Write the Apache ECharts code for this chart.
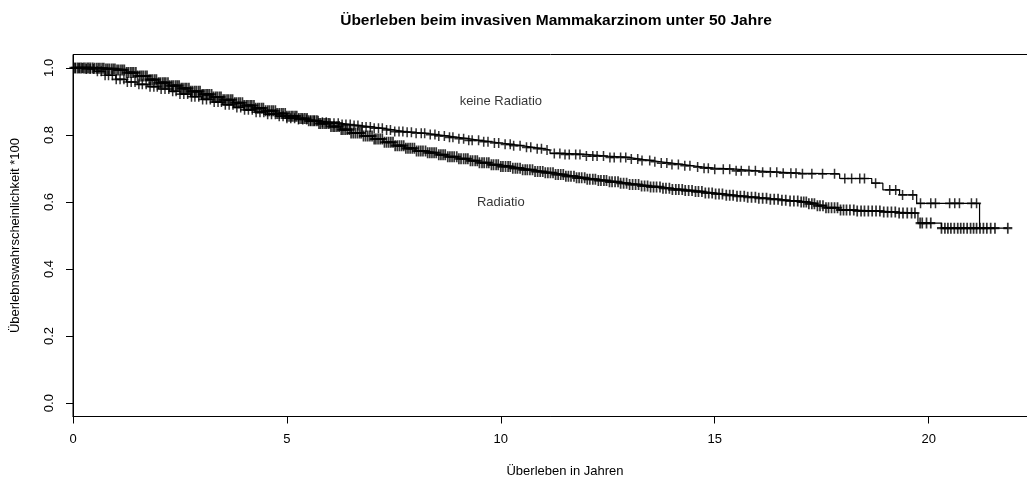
<!DOCTYPE html>
<html>
<head>
<meta charset="utf-8">
<script src="https://cdn.jsdelivr.net/npm/echarts@6/dist/echarts.min.js"></script>
<style>html,body{margin:0;padding:0;background:#fff}#c{width:1027px;height:477px}</style>
</head>
<body>
<div id="c"></div>
<script>
// ---- data ----
const chartTitle = 'Überleben beim invasiven Mammakarzinom unter 50 Jahre';
const xTitle = 'Überleben in Jahren';
const yTitle = 'Überlebnswahrscheinlichkeit *100';
const xTicks = [0, 5, 10, 15, 20];
const yTicks = [0, 0.2, 0.4, 0.6, 0.8, 1.0];

// Kaplan-Meier step points: Radiatio
const radTimes = [0,0.25,0.5,0.75,1.0,1.25,1.5,1.75,2.0,2.25,2.5,2.75,3.0,3.25,3.5,3.75,4.0,4.25,4.5,4.75,5.0,5.25,5.5,5.75,6.0,6.25,6.5,6.75,7.0,7.25,7.5,7.75,8.0,8.25,8.5,8.75,9.0,9.25,9.5,9.75,10.0,10.25,10.5,10.75,11.0,11.25,11.5,11.75,12.0,12.25,12.5,12.75,13.0,13.25,13.5,13.75,14.0,14.25,14.5,14.75,15.0,15.25,15.5,15.75,16.0,16.25,16.5,16.75,17.0,17.2,17.4,17.6,17.9,18.3,18.9,19.3,19.75,20.3,21.85];
const radSurv  = [1.0,1.0,0.999,0.997,0.994,0.986,0.976,0.965,0.956,0.947,0.939,0.93,0.921,0.913,0.905,0.896,0.888,0.88,0.872,0.864,0.856,0.849,0.842,0.834,0.825,0.816,0.806,0.797,0.788,0.778,0.768,0.76,0.752,0.747,0.741,0.735,0.729,0.723,0.717,0.711,0.706,0.701,0.696,0.691,0.687,0.682,0.677,0.672,0.668,0.664,0.66,0.656,0.652,0.648,0.645,0.641,0.637,0.634,0.631,0.627,0.624,0.62,0.617,0.614,0.611,0.608,0.605,0.603,0.6,0.595,0.589,0.583,0.576,0.573,0.57,0.567,0.537,0.522,0.522];
// Kaplan-Meier step points: keine Radiatio
const noRadTimes = [0,0.25,0.5,0.75,1.0,1.25,1.5,1.75,2.0,2.25,2.5,2.75,3.0,3.25,3.5,3.75,4.0,4.25,4.5,4.75,5.0,5.25,5.5,5.75,6.0,6.25,6.5,6.75,7.0,7.25,7.5,7.75,8.0,8.25,8.5,8.75,9.0,9.25,9.5,9.75,10.0,10.25,10.5,10.75,11.0,11.15,11.5,12.0,12.5,13.0,13.25,13.5,13.75,14.0,14.25,14.5,14.75,15.0,15.5,16.0,16.5,17.0,17.92,18.67,18.93,19.32,19.72,21.19];
const noRadSurv  = [1.0,0.997,0.99,0.978,0.966,0.958,0.951,0.944,0.937,0.93,0.922,0.914,0.906,0.898,0.89,0.882,0.875,0.868,0.862,0.856,0.85,0.846,0.842,0.838,0.835,0.831,0.828,0.824,0.82,0.815,0.81,0.808,0.805,0.801,0.797,0.793,0.789,0.784,0.78,0.776,0.772,0.768,0.763,0.759,0.755,0.745,0.742,0.737,0.733,0.728,0.724,0.72,0.716,0.712,0.708,0.704,0.701,0.698,0.693,0.689,0.686,0.684,0.67,0.656,0.636,0.621,0.596,0.525];

// censoring times (marks "+")
const radCensor = [
 0.02,0.06,0.11,0.15,0.19,0.24,0.28,0.33,0.37,0.41,0.46,0.5,0.55,0.59,0.63,0.68,0.72,0.77,0.81,0.85,0.9,0.94,0.98,
 1.03,1.07,1.12,1.16,1.2,1.25,1.29,1.34,1.38,1.42,1.47,1.51,1.56,1.6,1.64,1.69,1.73,1.78,1.82,1.86,1.91,1.95,
 2.0,2.04,2.09,2.13,2.17,2.22,2.26,2.31,2.35,2.4,2.44,2.48,2.53,2.57,2.62,2.66,2.71,2.75,2.79,2.84,2.88,2.93,2.97,
 3.02,3.06,3.11,3.15,3.19,3.24,3.28,3.33,3.37,3.42,3.46,3.51,3.55,3.6,3.64,3.69,3.73,3.78,3.82,3.87,3.91,3.96,
 4.0,4.05,4.09,4.14,4.18,4.23,4.27,4.32,4.36,4.41,4.45,4.5,4.55,4.59,4.64,4.68,4.73,4.77,4.82,4.87,4.91,4.96,
 5.0,5.05,5.1,5.14,5.19,5.23,5.28,5.33,5.37,5.42,5.47,5.51,5.56,5.61,5.65,5.7,5.75,5.79,5.84,5.89,5.93,5.98,
 6.03,6.08,6.12,6.17,6.22,6.27,6.31,6.36,6.41,6.46,6.5,6.55,6.6,6.65,6.7,6.74,6.79,6.84,6.89,6.94,6.99,
 7.04,7.08,7.13,7.18,7.23,7.28,7.33,7.38,7.43,7.48,7.53,7.58,7.63,7.68,7.73,7.78,7.83,7.88,7.93,7.98,
 8.03,8.08,8.13,8.18,8.24,8.29,8.34,8.39,8.44,8.49,8.55,8.6,8.65,8.7,8.76,8.81,8.86,8.91,8.97,
 9.02,9.07,9.13,9.18,9.23,9.29,9.34,9.4,9.45,9.5,9.56,9.61,9.67,9.72,9.78,9.83,9.89,9.94,
 10.0,10.05,10.11,10.17,10.22,10.28,10.34,10.39,10.45,10.51,10.57,10.62,10.68,10.74,10.8,10.86,10.92,10.98,
 11.04,11.1,11.16,11.22,11.28,11.34,11.4,11.46,11.52,11.58,11.64,11.71,11.77,11.83,11.89,11.96,
 12.02,12.08,12.15,12.21,12.28,12.34,12.41,12.47,12.54,12.6,12.67,12.74,12.8,12.87,12.94,
 13.01,13.08,13.15,13.22,13.29,13.36,13.43,13.5,13.57,13.64,13.72,13.79,13.86,13.94,
 14.01,14.09,14.16,14.24,14.31,14.39,14.47,14.55,14.62,14.7,14.78,14.86,14.94,
 15.02,15.1,15.18,15.27,15.35,15.43,15.52,15.6,15.69,15.77,15.86,15.95,
 16.03,16.12,16.21,16.3,16.39,16.48,16.57,16.66,16.76,16.85,16.94,
 17.02,17.08,17.14,17.2,17.27,17.33,17.4,17.46,17.53,17.6,17.66,17.73,17.8,17.87,17.94,18.01,18.08,
 18.16,18.25,18.33,18.42,18.5,18.59,18.68,18.77,18.86,18.95,19.04,19.13,19.22,19.31,19.4,19.5,19.6,19.68,
 19.8,19.85,19.95,20.05,20.3,20.38,20.45,20.52,20.6,20.68,20.75,20.82,20.9,20.98,21.05,21.12,21.2,21.28,21.36,21.45,21.55,21.85];
const noRadCensor = [
 0.05,0.14,0.22,0.31,0.4,0.48,0.57,0.66,0.75,0.83,0.92,1.01,1.1,1.19,1.27,1.36,1.45,1.54,1.62,1.71,1.8,1.89,1.97,
 2.06,2.15,2.24,2.33,2.41,2.5,2.59,2.68,2.77,2.85,2.94,3.03,3.12,3.21,3.3,3.39,3.47,3.56,3.65,3.74,3.83,3.92,
 4.01,4.1,4.19,4.28,4.37,4.46,4.55,4.64,4.73,4.82,4.91,5.0,5.09,5.18,5.27,5.37,5.46,5.55,5.64,5.73,5.83,5.92,
 6.01,6.1,6.2,6.29,6.38,6.48,6.57,6.66,6.76,6.85,6.95,7.04,7.14,7.23,7.33,7.42,7.52,7.62,7.71,7.81,7.91,
 8.02,8.14,8.22,8.35,8.46,8.55,8.68,8.8,8.88,9.02,9.13,9.25,9.33,9.48,9.6,9.7,9.85,9.95,
 10.1,10.22,10.3,10.45,10.6,10.7,10.85,10.95,11.08,11.25,11.38,11.5,11.6,11.75,11.85,12.0,12.15,12.25,12.4,12.55,12.65,12.8,12.92,
 13.05,13.2,13.3,13.48,13.6,13.75,13.88,14.0,14.15,14.3,14.42,14.6,14.75,14.85,15.0,15.2,15.35,15.5,15.62,15.8,15.95,
 16.12,16.3,16.45,16.6,16.78,16.9,17.05,17.27,17.52,17.8,18.04,18.2,18.39,18.5,18.76,19.09,19.23,19.39,19.63,19.81,
 20.05,20.16,20.49,20.61,20.72,21.0,21.12];

const labelNames = ['keine Radiatio', 'Radiatio'];
const labelPos = [[10, 0.9], [10, 0.6]];

// ---- build ----
function zip(a, b) { return a.map((v, i) => [v, b[i]]); }
function survAt(times, surv, t) {
  let s = surv[0];
  for (let i = 0; i < times.length; i++) { if (times[i] <= t) s = surv[i]; else break; }
  return s;
}
const FONT = '"Liberation Sans", Arial, sans-serif';
const plus = 'path://M5,0L5,10M0,5L10,5';
const stepLine = (name, t, s) => ({
  type: 'line', name, step: 'end', data: zip(t, s), showSymbol: false, silent: true,
  lineStyle: { color: '#000', width: 1.2 }, animation: false
});
const marks = (name, times, t, s, size, bw) => ({
  type: 'scatter', name, symbol: plus, symbolSize: size, silent: true, animation: false,
  itemStyle: { color: 'none', borderColor: '#000', borderWidth: bw },
  data: times.map(c => [c, survAt(t, s, c)])
});

const chart = echarts.init(document.getElementById('c'), null, { renderer: 'canvas' });
chart.setOption({
  animation: false,
  backgroundColor: '#fff',
  textStyle: { fontFamily: FONT },
  graphic: [{
    type: 'text', x: 556, y: 21, silent: true,
    style: { text: chartTitle, textAlign: 'center', textVerticalAlign: 'middle',
      font: 'bold 15.5px "Liberation Sans", Arial, sans-serif', fill: '#000' }
  }],
  grid: { left: 73, top: 54.5, width: 984, height: 362, containLabel: false, outerBoundsMode: 'none',
    show: true, borderColor: '#000', borderWidth: 1, backgroundColor: 'transparent' },
  xAxis: {
    type: 'value', min: 0, max: 23,
    name: xTitle, nameLocation: 'middle', nameGap: 48,
    nameTextStyle: { fontFamily: FONT, fontSize: 13, color: '#000' },
    axisLine: { show: true, onZero: false, lineStyle: { color: '#000', width: 1 } },
    axisTick: { show: true, length: 7, customValues: xTicks, lineStyle: { color: '#000' } },
    axisLabel: { customValues: xTicks, margin: 16, fontFamily: FONT, fontSize: 13, color: '#000' },
    splitLine: { show: false }
  },
  yAxis: {
    type: 'value', min: -0.04, max: 1.04,
    name: yTitle, nameLocation: 'middle', nameGap: 51, nameRotate: 90,
    nameTextStyle: { fontFamily: FONT, fontSize: 13, color: '#000' },
    axisLine: { show: true, onZero: false, lineStyle: { color: '#000', width: 1 } },
    axisTick: { show: true, length: 7, customValues: yTicks, lineStyle: { color: '#000' } },
    axisLabel: { customValues: yTicks, rotate: 90, margin: 17, fontFamily: FONT, fontSize: 13, color: '#000',
      formatter: v => Number(v).toFixed(1) },
    splitLine: { show: false }
  },
  series: [
    stepLine('Radiatio', radTimes, radSurv),
    stepLine('keine Radiatio', noRadTimes, noRadSurv),
    marks('Radiatio +', radCensor, radTimes, radSurv, [9, 11], 1.9),
    marks('keine Radiatio +', noRadCensor, noRadTimes, noRadSurv, [9, 10], 1.6),
    {
      type: 'scatter', name: 'labels', symbolSize: 1, silent: true, animation: false,
      itemStyle: { color: 'rgba(0,0,0,0)' },
      label: { show: true, position: 'inside', formatter: '{b}', fontFamily: FONT, fontSize: 13, color: '#000' },
      data: labelNames.map((n, i) => ({ name: n, value: labelPos[i] }))
    }
  ]
});
</script>
</body>
</html>
